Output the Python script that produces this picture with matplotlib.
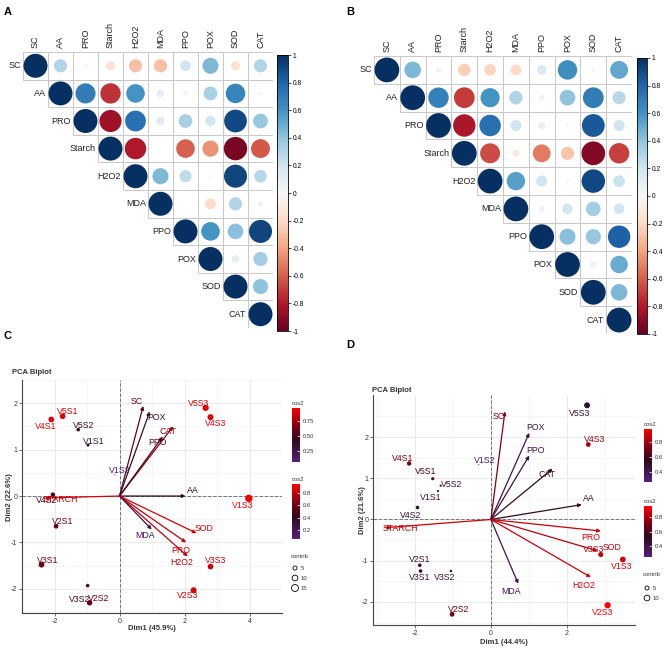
import numpy as np
import matplotlib
matplotlib.use("Agg")
import matplotlib.pyplot as plt
from matplotlib.colors import LinearSegmentedColormap, Normalize
from matplotlib.cm import ScalarMappable
from matplotlib.patches import Rectangle

plt.rcParams["font.family"] = ["Liberation Sans", "DejaVu Sans"]
plt.rcParams["axes.unicode_minus"] = False

# ---- data: correlation matrices (upper triangle, row by row from the diagonal)
corr_vars = ["SC", "AA", "PRO", "Starch", "H2O2", "MDA", "PPO", "POX", "SOD", "CAT"]

corr_a = [
    [1, .30, .02, -.15, -.30, -.30, .20, .45, -.15, .30],
    [1, .70, -.72, .60, .10, .04, .33, .66, .02],
    [1, -.85, .75, .12, .33, .18, .90, .38],
    [1, -.80, 0.0, -.60, -.45, -.95, -.62],
    [1, .45, .25, .02, .92, .28],
    [1, 0.0, -.20, .30, .05],
    [1, .60, .42, .92],
    [1, .10, .35],
    [1, .40],
    [1],
]

corr_b = [
    [1, .45, .04, -.25, -.22, -.20, .15, .62, .02, .52],
    [1, .68, -.70, .60, .30, .05, .40, .70, .28],
    [1, -.82, .75, .20, .08, .02, .85, .20],
    [1, -.65, -.08, -.52, -.28, -.92, -.68],
    [1, .55, .20, .02, .90, .22],
    [1, .06, .18, .35, .18],
    [1, .42, .38, .82],
    [1, .06, .50],
    [1, .45],
    [1],
]

# ---- data: PCA biplot C
c_ind = ["V5S3", "V4S3", "V4S1", "V5S1", "V5S2", "V1S1", "V1S2", "V4S2",
         "V1S3", "V2S1", "V3S1", "V3S2", "V2S2", "V3S3", "V2S3"]
c_x = [2.65, 2.80, -2.10, -1.75, -1.27, -0.97, -0.14, -2.05,
       3.98, -1.95, -2.40, -0.98, -0.92, 2.80, 2.28]
c_y = [1.90, 1.70, 1.65, 1.72, 1.43, 1.10, 0.46, 0.03,
       -0.05, -0.65, -1.48, -1.93, -2.30, -1.52, -2.03]
c_cos2 = [0.92, 0.90, 0.90, 0.88, 0.40, 0.35, 0.12, 0.50,
          0.95, 0.60, 0.62, 0.50, 0.62, 0.85, 0.88]
c_contrib = [12, 11, 10, 10, 4, 3, 0.4, 6, 17, 7, 10, 4, 9, 10, 11]
c_vars = ["SC", "POX", "CAT", "PPO", "AA", "SOD", "PRO", "H2O2", "MDA", "STARCH"]
c_vx = [0.73, 0.93, 1.65, 1.33, 2.03, 2.37, 2.05, 2.10, 0.99, -2.30]
c_vy = [1.94, 1.82, 1.50, 1.28, 0.00, -0.80, -1.00, -1.30, -0.72, -0.04]
c_vcos2 = [0.55, 0.35, 0.68, 0.50, 0.40, 0.85, 0.80, 0.80, 0.25, 0.85]

# ---- data: PCA biplot D
d_ind = ["V5S3", "V4S3", "V4S1", "V5S1", "V5S2", "V1S1", "V1S2", "V4S2",
         "V2S1", "V3S1", "V3S2", "V2S2", "V3S3", "V1S3", "V2S3"]
d_x = [2.53, 2.56, -2.15, -1.53, -1.32, -1.39, -0.32, -1.93,
       -1.87, -1.85, -1.05, -1.02, 2.89, 3.47, 3.07]
d_y = [2.77, 1.82, 1.36, 0.99, 0.82, 0.69, 1.33, 0.29,
       -1.11, -1.25, -1.25, -2.30, -0.85, -0.97, -2.08]
d_cos2 = [0.50, 0.78, 0.72, 0.62, 0.50, 0.45, 0.35, 0.50,
          0.48, 0.48, 0.48, 0.70, 0.86, 0.88, 0.96]
d_contrib = [11, 7, 6, 3, 1.5, 1.5, 0.4, 4, 4, 4, 2, 7, 8, 10, 12]
d_vars = ["SC", "POX", "PPO", "CAT", "AA", "PRO", "SOD", "H2O2", "MDA", "STARCH"]
d_vx = [0.37, 1.01, 1.01, 1.62, 2.39, 2.89, 2.80, 2.63, 0.72, -2.79]
d_vy = [2.62, 2.10, 1.55, 1.23, 0.36, -0.28, -0.76, -1.40, -1.56, -0.20]
d_vcos2 = [0.72, 0.40, 0.42, 0.52, 0.52, 0.85, 0.82, 0.86, 0.40, 0.85]

# label placement (data coords)
c_ind_lab = {"V5S3": (2.43, 2.0), "V4S3": (2.96, 1.56), "V4S1": (-2.27, 1.5),
             "V5S1": (-1.6, 1.82), "V5S2": (-1.1, 1.52), "V1S1": (-0.8, 1.18),
             "V1S2": (0.0, 0.56), "V4S2": (-2.25, -0.1), "V1S3": (3.78, -0.2),
             "V2S1": (-1.76, -0.54), "V3S1": (-2.22, -1.38), "V3S2": (-1.24, -2.22),
             "V2S2": (-0.65, -2.2), "V3S3": (2.95, -1.38), "V2S3": (2.1, -2.14)}
c_var_lab = {"SC": (0.53, 2.04), "POX": (1.15, 1.7), "CAT": (1.5, 1.38),
             "PPO": (1.16, 1.16), "AA": (2.25, 0.12), "SOD": (2.6, -0.71),
             "PRO": (1.9, -1.18), "H2O2": (1.9, -1.44), "MDA": (0.8, -0.86),
             "STARCH": (-1.82, -0.08)}
d_ind_lab = {"V5S3": (2.34, 2.57), "V4S3": (2.74, 1.94), "V4S1": (-2.32, 1.48),
             "V5S1": (-1.71, 1.16), "V5S2": (-1.03, 0.85), "V1S1": (-1.58, 0.53),
             "V1S2": (-0.16, 1.43), "V4S2": (-2.1, 0.1), "V2S1": (-1.87, -0.97),
             "V3S1": (-1.87, -1.4), "V3S2": (-1.21, -1.4), "V2S2": (-0.84, -2.18),
             "V3S3": (2.7, -0.73), "V1S3": (3.45, -1.14), "V2S3": (2.94, -2.25)}
d_var_lab = {"SC": (0.21, 2.5), "POX": (1.18, 2.23), "PPO": (1.18, 1.67),
             "CAT": (1.47, 1.09), "AA": (2.58, 0.51), "PRO": (2.63, -0.44),
             "SOD": (3.18, -0.68), "H2O2": (2.45, -1.6), "MDA": (0.53, -1.74),
             "STARCH": (-2.37, -0.22)}

W, H = 670, 649
fig = plt.figure(figsize=(6.7, 6.49), dpi=100)


def px_axes(x0, y0, x1, y1):
    return fig.add_axes([x0 / W, 1 - y1 / H, (x1 - x0) / W, (y1 - y0) / H])


corr_cmap = plt.get_cmap("RdBu")
corr_norm = Normalize(-1, 1)
pca_cmap = LinearSegmentedColormap.from_list(
    "cos2", [(0, "#55207a"), (0.4, "#2e0a1c"), (0.65, "#7a0014"), (1, "#ff0000")])


def corrplot(box, cbar_box, mat):
    x0, y0, x1, y1 = box
    n = len(corr_vars)
    cw, ch = (x1 - x0) / n, (y1 - y0) / n
    ax = px_axes(*box)
    ax.set_xlim(0, n)
    ax.set_ylim(n, 0)
    ax.axis("off")
    for i, row in enumerate(mat):
        for k, r in enumerate(row):
            j = i + k
            ax.add_patch(Rectangle((j, i), 1, 1, fill=False, ec="#c8c8c8", lw=0.7))
            d = 0.96 * min(cw, ch) * np.sqrt(abs(r)) * 0.72
            ax.scatter(j + 0.5, i + 0.5, s=d ** 2, color=corr_cmap(corr_norm(r)),
                       edgecolors="none", clip_on=False, zorder=3)
        ax.text(i - 0.08, i + 0.5, corr_vars[i], ha="right", va="center",
                fontsize=6.5, color="#222222")
        ax.text(i + 0.5, -0.15, corr_vars[i], ha="center", va="bottom",
                rotation=90, fontsize=6.5, color="#222222")
    cax = px_axes(*cbar_box)
    cb = fig.colorbar(ScalarMappable(corr_norm, corr_cmap), cax=cax,
                      ticks=np.round(np.arange(-1, 1.01, 0.2), 1))
    cb.ax.set_yticklabels(["-1", "-0.8", "-0.6", "-0.4", "-0.2", "0",
                           "0.2", "0.4", "0.6", "0.8", "1"])
    cb.ax.tick_params(labelsize=4.8, length=2, width=0.5, pad=1.5)
    cb.outline.set_linewidth(0.6)


corrplot((23, 52, 273, 328), (277, 55, 288, 331), corr_a)
corrplot((374, 56, 632, 334), (637, 58, 647, 334), corr_b)


def biplot(box, xlim, ylim, xticks, yticks, ind, xs, ys, cos2, contrib, ind_lab,
           vars_, vx, vy, vcos2, var_lab, ind_norm, var_norm):
    ax = px_axes(*box)
    ax.set_xlim(*xlim)
    ax.set_ylim(*ylim)
    ax.set_xticks(xticks)
    ax.set_yticks(yticks)
    ax.set_xticks(np.arange(xticks[0] - 1, xticks[-1] + 1.1, 1), minor=True)
    ax.set_yticks(np.arange(yticks[0] - 0.5, yticks[-1] + 0.6, 1), minor=True)
    ax.grid(which="major", color="#e6e6e6", lw=0.6)
    ax.grid(which="minor", color="#f0f0f0", lw=0.4)
    ax.set_axisbelow(True)
    for s in ["top", "right"]:
        ax.spines[s].set_visible(False)
    for s in ["left", "bottom"]:
        ax.spines[s].set_color("#444444")
        ax.spines[s].set_linewidth(0.8)
    ax.tick_params(which="major", labelsize=5, length=2, width=0.5,
                   colors="#333333", pad=1.5)
    ax.tick_params(which="minor", length=0)
    ax.axhline(0, ls="--", color="#777777", lw=0.7, zorder=1)
    ax.axvline(0, ls="--", color="#777777", lw=0.7, zorder=1)
    for name, x, y, c, ct in zip(ind, xs, ys, cos2, contrib):
        col = pca_cmap(ind_norm(c))
        d = 1.8 * np.sqrt(ct) * 0.72
        ax.scatter(x, y, s=d ** 2, color=col, edgecolors="none", zorder=4)
        lx, ly = ind_lab[name]
        ax.text(lx, ly, name, color=col, fontsize=6.3, ha="center", va="center",
                zorder=5)
    for name, x, y, c in zip(vars_, vx, vy, vcos2):
        col = pca_cmap(var_norm(c))
        ax.annotate("", xy=(x, y), xytext=(0, 0),
                    arrowprops=dict(arrowstyle="-|>", color=col, lw=0.9,
                                    mutation_scale=5, shrinkA=0, shrinkB=0),
                    zorder=3)
        lx, ly = var_lab[name]
        ax.text(lx, ly, name, color=col, fontsize=6.3, ha="center", va="center",
                zorder=5)
    return ax


def cos2_bar(box, norm, ticks, labels):
    cax = px_axes(*box)
    cb = fig.colorbar(ScalarMappable(norm, pca_cmap), cax=cax, ticks=ticks)
    cb.ax.set_yticklabels(labels)
    cb.outline.set_visible(False)
    cb.ax.tick_params(labelsize=4.2, length=2, width=0.5, color="white",
                      direction="in", pad=2, labelcolor="#333333")
    cb.ax.set_title("cos2", fontsize=4.2, loc="left", pad=2, color="#333333")


c_ind_norm = Normalize(0.07, 0.97)
c_var_norm = Normalize(0.05, 0.95)
biplot((22, 380, 282, 613), (-2.67, 4.27), (-2.52, 2.16), [-2, 0, 2, 4],
       [-2, -1, 0, 1, 2], c_ind, c_x, c_y, c_cos2, c_contrib, c_ind_lab,
       c_vars, c_vx, c_vy, c_vcos2, c_var_lab, c_ind_norm, c_var_norm)
cos2_bar((292, 408, 300, 462), c_ind_norm, [0.25, 0.5, 0.75], ["0.25", "0.50", "0.75"])
cos2_bar((292, 484, 300, 539), c_var_norm, [0.2, 0.4, 0.6, 0.8], ["0.2", "0.4", "0.6", "0.8"])

d_ind_norm = Normalize(0.27, 0.97)
d_var_norm = Normalize(0.25, 0.95)
biplot((373, 395, 635, 625), (-3.1, 3.79), (-2.56, 3.02), [-2, 0, 2],
       [-2, -1, 0, 1, 2], d_ind, d_x, d_y, d_cos2, d_contrib, d_ind_lab,
       d_vars, d_vx, d_vy, d_vcos2, d_var_lab, d_ind_norm, d_var_norm)
cos2_bar((644, 429, 652, 482), d_ind_norm, [0.4, 0.6, 0.8], ["0.4", "0.6", "0.8"])
cos2_bar((644, 506, 652, 557), d_var_norm, [0.4, 0.6, 0.8], ["0.4", "0.6", "0.8"])

# overlay for panel letters, titles, axis labels, size legends
ov = fig.add_axes([0, 0, 1, 1])
ov.set_xlim(0, W)
ov.set_ylim(H, 0)
ov.axis("off")
for letter, x, y in [("A", 8, 12), ("B", 350, 12), ("C", 8, 336), ("D", 350, 345)]:
    ov.text(x, y, letter, fontsize=8, fontweight="bold", ha="center", va="center")
ov.text(12, 372, "PCA Biplot", fontsize=5.5, fontweight="bold", color="#333333", va="center")
ov.text(372, 390, "PCA Biplot", fontsize=5.5, fontweight="bold", color="#333333", va="center")
ov.text(152, 628, "Dim1 (45.9%)", fontsize=5.5, fontweight="bold", color="#333333", ha="center", va="center")
ov.text(10, 497, "Dim2 (22.6%)", fontsize=5.5, fontweight="bold", color="#333333", ha="center", va="center", rotation=90)
ov.text(504, 642, "Dim1 (44.4%)", fontsize=5.5, fontweight="bold", color="#333333", ha="center", va="center")
ov.text(362, 510, "Dim2 (21.6%)", fontsize=5.5, fontweight="bold", color="#333333", ha="center", va="center", rotation=90)

for tx, ty, sizes, ys in [(291, 556, [5, 10, 15], [568, 578, 588]),
                          (643, 575, [5, 10], [588, 598])]:
    ov.text(tx, ty, "contrib", fontsize=4.2, color="#333333", va="center")
    for sv, yy in zip(sizes, ys):
        d = 1.8 * np.sqrt(sv) * 0.72
        ov.scatter(tx + 4, yy, s=d ** 2, facecolors="none", edgecolors="black", linewidths=0.6)
        ov.text(tx + 10, yy, str(sv), fontsize=4.2, color="#333333", va="center")

fig.savefig("out.png", dpi=100)
